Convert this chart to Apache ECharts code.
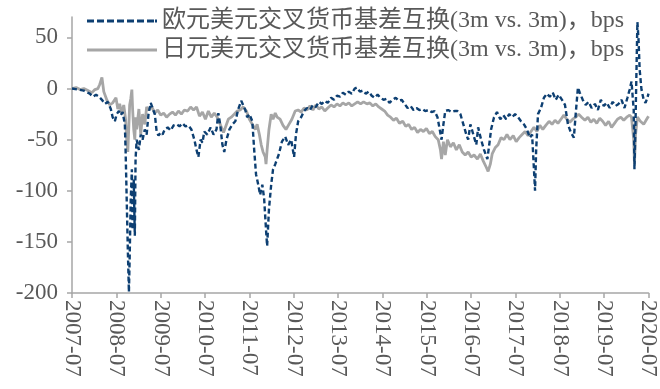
<!DOCTYPE html>
<html>
<head>
<meta charset="utf-8">
<script src="https://cdn.jsdelivr.net/npm/echarts@6/dist/echarts.min.js"></script>
<style>
html,body{margin:0;padding:0;background:#fff;}
#chart{width:660px;height:389px;}
</style>
</head>
<body>
<div id="chart"></div>
<script>
// months since 2007-07
const xTickLabels = ['2007-07','2008-07','2009-07','2010-07','2011-07','2012-07','2013-07','2014-07','2015-07','2016-07','2017-07','2018-07','2019-07','2020-07'];
const yTickValues = [-200,-150,-100,-50,0,50];
const seriesNames = ['欧元美元交叉货币基差互换(3m vs. 3m)，bps','日元美元交叉货币基差互换(3m vs. 3m)，bps'];

const eurMonths = [0,1.6,3.2,4.8,5.7,6.5,7.3,8.1,8.9,9.7,10.5,11.0,11.6,12.1,12.7,13.2,13.7,14.3,14.5,14.8,15.1,15.4,15.6,15.9,16.2,16.4,16.7,17.0,17.2,17.5,18.1,18.6,19.1,19.7,20.2,20.7,21.3,21.8,22.4,22.9,23.4,24.0,24.5,25.1,25.9,26.7,27.5,28.3,29.1,29.9,30.7,31.5,32.3,33.1,33.7,34.2,34.8,35.3,35.8,36.6,37.5,38.3,39.1,39.6,40.1,40.7,41.2,41.8,42.6,43.4,44.2,45.0,45.8,46.3,46.9,47.4,48.0,48.8,49.3,49.8,50.4,50.9,51.5,52.0,52.5,52.8,53.3,53.9,54.4,55.0,55.5,56.0,56.8,57.7,58.5,59.3,60.1,60.6,61.2,62.0,62.8,63.6,64.4,65.2,66.0,66.8,67.6,68.4,69.2,70.1,70.9,71.7,72.5,73.3,74.1,74.9,75.7,76.5,77.1,77.9,78.7,79.5,80.3,81.1,81.9,82.7,83.5,84.3,85.1,85.9,86.8,87.6,88.4,89.2,90.0,90.8,91.6,92.4,93.2,94.0,94.8,95.6,96.5,97.3,98.1,98.9,99.4,100.0,100.5,101.0,101.8,102.7,103.5,104.3,105.1,105.9,106.7,107.2,107.8,108.6,109.4,109.9,110.7,111.5,112.4,112.9,113.4,114.2,115.0,115.9,116.7,117.5,118.3,119.1,119.9,120.7,121.5,122.3,123.1,123.9,124.5,125.0,125.3,125.6,126.1,126.9,127.7,128.5,129.3,130.1,130.9,131.7,132.6,133.4,134.2,135.0,135.8,136.3,136.9,137.4,138.2,139.0,139.8,140.6,141.5,142.3,143.1,143.9,144.7,145.5,146.3,147.1,147.9,148.7,149.5,150.3,150.9,151.4,152.0,152.2,152.5,152.8,153.0,153.3,153.6,154.1,154.7,155.2,155.7,156.0];
const eurValues = [0,-1,-2,-5,-8,-6,-8,-11,-15,-13,-20,-28,-32,-25,-22,-26,-23,-35,-60,-108,-157,-199,-166,-108,-79,-138,-89,-144,-69,-50,-60,-45,-50,-40,-45,-25,-14,-15,-25,-42,-46,-43,-45,-40,-38,-41,-36,-35,-37,-34,-37,-36,-40,-50,-60,-67,-50,-53,-42,-45,-38,-45,-40,-24,-35,-55,-62,-50,-40,-35,-32,-20,-12,-16,-21,-28,-25,-32,-60,-84,-94,-104,-94,-108,-138,-154,-118,-94,-79,-74,-69,-64,-52,-47,-55,-50,-67,-45,-32,-28,-22,-19,-21,-16,-18,-13,-15,-12,-14,-9,-11,-7,-8,-4,-6,-3,-5,0,1,-3,-2,-5,-3,-7,-9,-6,-9,-11,-10,-14,-11,-9,-12,-11,-15,-19,-17,-21,-19,-21,-20,-22,-21,-23,-22,-28,-38,-50,-35,-22,-21,-23,-22,-22,-25,-35,-45,-50,-35,-45,-55,-38,-50,-60,-69,-55,-40,-28,-23,-30,-26,-30,-25,-28,-25,-28,-32,-35,-40,-48,-45,-79,-100,-60,-25,-19,-9,-5,-8,-4,-11,-6,-11,-16,-35,-43,-48,-25,1,-4,-11,-16,-13,-19,-15,-21,-11,-17,-14,-19,-13,-17,-15,-11,-19,-9,-1,7,-21,-79,-30,28,65,48,19,-1,-11,-14,-9,-5];

const jpyMonths = [0,1.1,2.2,3.2,4.3,5.4,6.2,7.0,7.5,8.1,8.6,9.4,10.2,11.0,11.9,12.4,12.9,13.5,14.0,14.5,14.8,15.1,15.4,15.6,15.9,16.2,16.4,16.7,17.0,17.2,17.5,18.1,18.6,19.1,19.7,20.2,20.7,21.6,22.4,23.2,24.0,24.8,25.6,26.4,27.2,28.0,28.8,29.6,30.4,31.3,32.1,32.9,33.7,34.5,35.3,36.1,36.9,37.7,38.5,39.3,40.1,41.0,41.5,42.3,43.1,43.9,44.7,45.5,46.3,47.2,48.0,48.8,49.6,50.1,50.7,51.2,51.7,52.3,52.5,52.8,53.3,53.9,54.4,55.0,55.5,56.3,57.1,57.9,58.7,59.5,60.4,61.2,62.0,62.8,63.6,64.4,65.2,66.0,66.8,67.6,68.4,69.2,70.1,70.9,71.7,72.5,73.3,74.1,74.9,75.7,76.5,77.3,78.1,78.9,79.8,80.6,81.4,82.2,83.0,83.8,84.6,85.4,86.2,87.0,87.8,88.6,89.5,90.3,91.1,91.9,92.7,93.5,94.3,95.1,95.9,96.7,97.5,98.3,99.1,99.7,100.0,100.5,101.0,101.6,102.4,103.2,104.0,104.8,105.6,106.4,107.2,108.0,108.8,109.7,110.5,111.3,112.1,112.6,113.2,113.7,114.5,115.3,116.1,116.9,117.7,118.5,119.4,120.2,121.0,121.8,122.6,123.4,124.2,125.0,125.8,126.6,127.4,128.2,129.1,129.9,130.7,131.5,132.3,133.1,133.9,134.7,135.5,136.3,137.1,137.9,138.8,139.6,140.4,141.2,142.0,142.8,143.6,144.4,145.2,146.0,146.8,147.6,148.5,149.3,150.1,150.9,151.4,152.0,152.2,152.5,153.0,153.8,154.7,155.5,156.0];
const jpyValues = [0,1,-1,0,-2,-4,-1,0,4,11,-3,-11,-16,-14,-9,-20,-15,-25,-16,-30,-50,-62,-35,-16,-10,-1,-20,-40,-50,-28,-40,-20,-45,-25,-35,-18,-21,-18,-24,-21,-26,-24,-28,-25,-23,-26,-22,-25,-21,-22,-18,-21,-18,-27,-23,-30,-22,-28,-24,-28,-35,-43,-38,-30,-28,-25,-22,-21,-18,-22,-30,-35,-40,-35,-45,-55,-62,-67,-74,-60,-40,-25,-30,-24,-28,-30,-36,-40,-35,-30,-22,-21,-23,-19,-21,-17,-21,-16,-20,-18,-22,-19,-16,-18,-15,-17,-14,-16,-14,-17,-15,-13,-15,-13,-15,-14,-17,-15,-18,-20,-22,-26,-28,-31,-29,-34,-32,-37,-35,-40,-38,-43,-40,-42,-39,-44,-42,-47,-50,-60,-69,-52,-65,-50,-57,-53,-60,-55,-62,-65,-62,-67,-65,-69,-64,-71,-77,-81,-74,-64,-58,-55,-48,-50,-45,-50,-46,-52,-48,-45,-42,-46,-42,-38,-42,-36,-40,-36,-32,-35,-31,-34,-30,-26,-30,-33,-30,-28,-25,-28,-31,-28,-33,-30,-34,-29,-32,-36,-32,-38,-34,-30,-28,-31,-28,-26,-28,-50,-74,-45,-28,-32,-35,-30,-27];

const FONT = "'Liberation Serif','Times New Roman','Noto Sans CJK SC',serif";
const TEXT = '#595959';
const AXIS = '#a6a6a6';
const EUR_COLOR = '#0d3f72';
const JPY_COLOR = '#a6a6a6';
const DASH_ICON = 'path://M0,0h7v3h-7z M10,0h7v3h-7z M20,0h7v3h-7z M30,0h7v3h-7z M40,0h7v3h-7z M50,0h7v3h-7z M60,0h7v3h-7z M68,0h2v3h-2z';
const SOLID_ICON = 'path://M0,0h70v3h-70z';

const chart = echarts.init(document.getElementById('chart'), null, {renderer:'canvas'});
chart.setOption({
  animation: false,
  backgroundColor: '#ffffff',
  grid: {left: 72, right: 9, top: 17, bottom: 96, containLabel: false},
  legend: {
    orient: 'vertical', left: 87, top: 9, padding: 0,
    itemWidth: 70, itemHeight: 3, itemGap: 5,
    symbolKeepAspect: false,
    itemStyle: {borderWidth: 0},
    textStyle: {fontFamily: FONT, fontSize: 24, color: TEXT},
    data: [
      {name: seriesNames[0], icon: DASH_ICON, itemStyle: {color: EUR_COLOR}},
      {name: seriesNames[1], icon: SOLID_ICON, itemStyle: {color: JPY_COLOR}}
    ]
  },
  xAxis: {
    type: 'value', min: 0, max: 156, interval: 12,
    axisLine: {show: true, onZero: false, lineStyle: {color: AXIS, width: 1.5}},
    axisTick: {show: true, length: 5, lineStyle: {color: AXIS, width: 1.5}},
    splitLine: {show: false},
    axisLabel: {
      rotate: -90, margin: 7, fontFamily: FONT, fontSize: 23, color: TEXT,
      formatter: v => xTickLabels[Math.round(v / 12)] || ''
    }
  },
  yAxis: {
    type: 'value', min: -200, max: 70,
    axisLine: {show: true, lineStyle: {color: AXIS, width: 1.5}},
    axisTick: {show: true, length: 5, customValues: yTickValues, lineStyle: {color: AXIS, width: 1.5}},
    splitLine: {show: false},
    axisLabel: {
      margin: 14, fontFamily: FONT, fontSize: 23, color: TEXT,
      customValues: yTickValues
    }
  },
  series: [
    {
      name: seriesNames[1], type: 'line', symbol: 'none', z: 2,
      lineStyle: {color: JPY_COLOR, width: 2.8},
      itemStyle: {color: JPY_COLOR},
      data: jpyMonths.map((m, i) => [m, jpyValues[i]])
    },
    {
      name: seriesNames[0], type: 'line', symbol: 'none', z: 3,
      lineStyle: {color: EUR_COLOR, width: 2.4, type: [5, 3]},
      itemStyle: {color: EUR_COLOR},
      data: eurMonths.map((m, i) => [m, eurValues[i]])
    }
  ]
});
</script>
</body>
</html>
